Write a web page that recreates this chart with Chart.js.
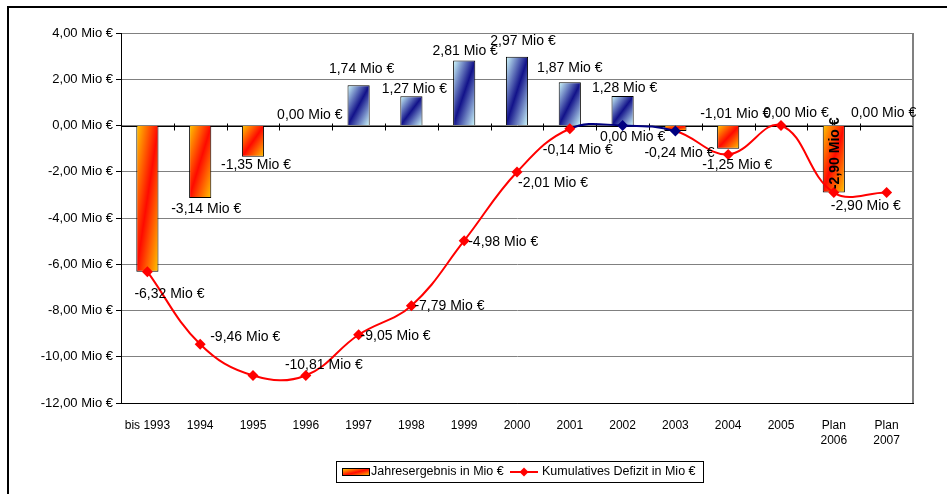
<!DOCTYPE html>
<html>
<head>
<meta charset="utf-8">
<script src="https://cdn.jsdelivr.net/npm/chart.js@4.4.1/dist/chart.umd.min.js"></script>
<style>
  html, body { margin: 0; padding: 0; background: #fff; }
  canvas { display: block; }
</style>
</head>
<body>
<canvas id="chart" width="947" height="494"></canvas>
<script>
// Categories and values (Mio €)
const categories = ['bis 1993', '1994', '1995', '1996', '1997', '1998', '1999', '2000',
  '2001', '2002', '2003', '2004', '2005', ['Plan', '2006'], ['Plan', '2007']];
const annualResult = [-6.32, -3.14, -1.35, 0.00, 1.74, 1.27, 2.81, 2.97, 1.87, 1.28,
  -0.24, -1.01, 0.00, -2.90, 0.00];
const cumulativeDeficit = [-6.32, -9.46, -10.81, -10.81, -9.05, -7.79, -4.98, -2.01,
  -0.14, 0.00, -0.24, -1.25, 0.00, -2.90, -2.90];
const yTicks = [4, 2, 0, -2, -4, -6, -8, -10, -12];
const seriesNames = ['Jahresergebnis in Mio €', 'Kumulatives Defizit in Mio €'];

const FONT = '"Liberation Sans", Arial, sans-serif';
const BAR_FRACTION = 0.42;
const RED = '#FF0000';
const NAVY = '#000080';

function fmt(v) {
  return v.toFixed(2).replace('.', ',') + ' Mio €';
}

// Diagonal "up" gradient: light edges, dark band along the rising diagonal
function diagonalGradient(c, x, y, w, h, edge, mid) {
  const cx = x + w / 2, cy = y + h / 2;
  const k = (w * h) / (w * w + h * h);
  const g = c.createLinearGradient(cx - h * k, cy - w * k, cx + h * k, cy + w * k);
  g.addColorStop(0, edge);
  g.addColorStop(0.5, mid);
  g.addColorStop(1, edge);
  return g;
}
const NEG_EDGE = '#FFC800', NEG_MID = '#FF0A00';
const POS_EDGE = '#D2FFFF', POS_MID = '#12128A';

function barFill(ctx) {
  const chart = ctx.chart;
  if (ctx.type !== 'data' || !chart.chartArea) return '#FF6600';
  const xs = chart.scales.x, ys = chart.scales.y;
  const v = ctx.raw;
  const w = xs.width / categories.length * BAR_FRACTION;
  const cx = xs.getPixelForValue(ctx.dataIndex);
  const y0 = ys.getPixelForValue(0), y1 = ys.getPixelForValue(v);
  const top = Math.min(y0, y1), h = Math.max(Math.abs(y1 - y0), 1);
  return v < 0
    ? diagonalGradient(chart.ctx, cx - w / 2, top, w, h, NEG_EDGE, NEG_MID)
    : diagonalGradient(chart.ctx, cx - w / 2, top, w, h, POS_EDGE, POS_MID);
}

// Label placement relative to the bar end / line point: [dx, dy] of the text centre
const barLabelOffset = [null, [6, 11], [3, 8], [4, -10], [3, -16], [3, -7], [1, -9], [6, -16],
  [0, -14], [2, -8], null, [7, -35], [15, -12], 'rot', [-3, -12]];
const lineLabelOffset = [[22, 22], [45, -7], null, [18, -10], [37, 1], [38, 0], [39, 1.5],
  [36, 11], [8, 21], [10, 12], [4, 22], [9, 11], null, [32, 14], null];

const framePlugin = {
  id: 'frame',
  beforeDraw(chart) {
    const c = chart.ctx;
    c.save();
    c.fillStyle = '#fff';
    c.fillRect(0, 0, chart.width, chart.height);
    c.fillStyle = '#000';
    c.fillRect(7, 6, chart.width - 7, 2);
    c.fillRect(7, 6, 2, chart.height - 6);
    c.restore();
  },
  beforeDatasetsDraw(chart) {
    const c = chart.ctx, a = chart.chartArea;
    const xs = chart.scales.x, ys = chart.scales.y;
    c.save();
    // right edge of the plot area
    c.strokeStyle = '#808080';
    c.lineWidth = 2;
    c.beginPath();
    c.moveTo(a.right, a.top);
    c.lineTo(a.right, a.bottom);
    c.stroke();
    // category tick marks crossing the zero line
    const y0 = Math.round(ys.getPixelForValue(0)) + 0.5;
    const step = xs.width / categories.length;
    c.strokeStyle = '#000';
    c.lineWidth = 1;
    c.beginPath();
    c.moveTo(a.left, y0);
    c.lineTo(a.right, y0);
    for (let i = 1; i < categories.length; i++) {
      const x = Math.round(a.left + i * step) + 0.5;
      c.moveTo(x, y0 - 3);
      c.lineTo(x, y0 + 4);
    }
    c.stroke();
    c.restore();
  },
  afterDatasetsDraw(chart) {
    const c = chart.ctx;
    const bars = chart.getDatasetMeta(0).data;
    const pts = chart.getDatasetMeta(1).data;
    c.save();
    c.fillStyle = '#000';
    c.textAlign = 'center';
    c.textBaseline = 'middle';
    c.font = '14px ' + FONT;
    annualResult.forEach((v, i) => {
      const off = barLabelOffset[i];
      if (!off) return;
      const b = bars[i];
      if (off === 'rot') {
        c.save();
        c.font = 'bold 14px ' + FONT;
        c.translate(b.x + 1, (b.y + b.base) / 2 - 6);
        c.rotate(-Math.PI / 2);
        c.fillText(fmt(v), 0, 0);
        c.restore();
        return;
      }
      c.fillText(fmt(v), b.x + off[0], b.y + off[1]);
    });
    cumulativeDeficit.forEach((v, i) => {
      const off = lineLabelOffset[i];
      if (!off) return;
      const p = pts[i];
      c.fillText(fmt(v), p.x + off[0], p.y + off[1]);
    });
    c.restore();
  },
  afterDraw(chart) {
    // legend box
    const c = chart.ctx;
    c.save();
    c.strokeStyle = '#000';
    c.lineWidth = 1;
    c.strokeRect(336.5, 461.5, 367, 21);
    const ly = 472;
    c.fillStyle = diagonalGradient(c, 342, 469, 27, 7, NEG_EDGE, NEG_MID);
    c.fillRect(342, 469, 27, 7);
    c.strokeRect(342.5, 468.5, 27, 7);
    c.fillStyle = '#000';
    c.font = '12.5px ' + FONT;
    c.textAlign = 'left';
    c.textBaseline = 'middle';
    c.fillText(seriesNames[0], 371, ly);
    c.strokeStyle = RED;
    c.lineWidth = 2;
    c.beginPath();
    c.moveTo(510, ly);
    c.lineTo(538, ly);
    c.stroke();
    c.fillStyle = RED;
    c.beginPath();
    c.moveTo(524, ly - 4.5);
    c.lineTo(528.5, ly);
    c.lineTo(524, ly + 4.5);
    c.lineTo(519.5, ly);
    c.closePath();
    c.fill();
    c.fillStyle = '#000';
    c.fillText(seriesNames[1], 542, ly);
    c.restore();
  }
};

new Chart(document.getElementById('chart'), {
  type: 'bar',
  data: {
    labels: categories,
    datasets: [
      {
        label: seriesNames[0],
        data: annualResult,
        order: 2,
        backgroundColor: barFill,
        borderColor: '#000',
        borderWidth: ctx => (ctx.raw === 0 ? 0 : 1),
        barPercentage: BAR_FRACTION,
        categoryPercentage: 1
      },
      {
        type: 'line',
        label: seriesNames[1],
        data: cumulativeDeficit,
        order: 1,
        borderColor: RED,
        borderWidth: 2,
        tension: 0.4,
        pointStyle: 'rectRot',
        pointRadius: 5.5,
        pointBorderWidth: 0,
        pointBackgroundColor: cumulativeDeficit.map((_, i) => (i === 9 || i === 10 ? NAVY : RED)),
        pointBorderColor: cumulativeDeficit.map((_, i) => (i === 9 || i === 10 ? NAVY : RED)),
        segment: {
          borderColor: ctx => (ctx.p0DataIndex === 8 || ctx.p0DataIndex === 9 ? NAVY : RED)
        }
      }
    ]
  },
  options: {
    responsive: false,
    animation: false,
    devicePixelRatio: 1,
    layout: { padding: { left: 0, top: 33, right: 34, bottom: 0 } },
    plugins: {
      legend: { display: false },
      tooltip: { enabled: false }
    },
    scales: {
      x: {
        offset: true,
        grid: { display: false },
        border: { display: true, color: '#000', width: 1 },
        ticks: {
          color: '#000',
          font: { family: FONT, size: 12, lineHeight: 1.25 },
          padding: 7,
          maxRotation: 0,
          autoSkip: false
        },
        afterFit(scale) { scale.height = 91; }
      },
      y: {
        min: -12,
        max: 4,
        afterBuildTicks(scale) { scale.ticks = yTicks.map(v => ({ value: v })); },
        grid: {
          color: ctx => (ctx.tick && (ctx.tick.value === -12) ? '#000' : '#808080'),
          tickColor: '#000',
          tickLength: 5,
          lineWidth: 1
        },
        border: { display: true, color: '#000', width: 1 },
        ticks: {
          color: '#000',
          font: { family: FONT, size: 13 },
          padding: 3,
          callback: v => fmt(v)
        },
        afterFit(scale) { scale.width = 121; }
      }
    }
  },
  plugins: [framePlugin]
});
</script>
</body>
</html>
